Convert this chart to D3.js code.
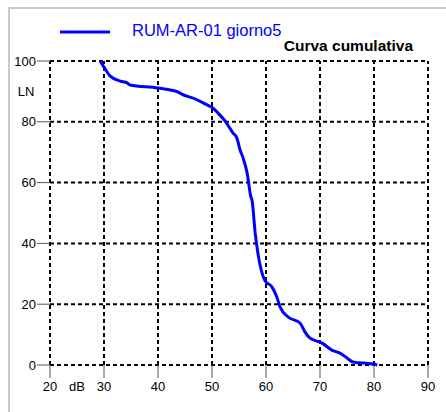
<!DOCTYPE html>
<html><head><meta charset="utf-8">
<script src="https://cdn.jsdelivr.net/npm/d3@7"></script>
<style>body{margin:0;background:#fff;}svg{display:block;font-family:"Liberation Sans",Arial,sans-serif;}</style>
</head><body><svg id="c" width="446" height="412"></svg>
<script>
const seriesName = "RUM-AR-01 giorno5";
const title = "Curva cumulativa";
const xTicks = [20,30,40,50,60,70,80,90];
const yTicks = [0,20,40,60,80,100];
const dB = [29.3,30.2,31.1,33.0,34.3,34.8,40.0,43.7,44.4,46.9,48.7,50.2,51.1,52.4,53.9,54.6,55.2,55.7,56.5,57.2,57.4,58.0,58.5,59.8,61.1,62.0,62.6,64.1,66.3,67.2,68.1,70.4,72.2,73.7,75.0,76.1,79.8,80.6];
const LN = [100,97.4,95.1,93.4,92.8,92.1,91.1,89.8,89.1,87.5,85.9,84.5,82.9,80.3,76.3,74.7,70.7,68.4,63.2,55.3,54.3,43.4,36.8,27.8,25.7,22.4,19.1,15.8,13.8,10.9,8.9,7.2,4.9,3.9,2.3,1.0,0.3,0];

const svg = d3.select("#c");
const x = d3.scaleLinear().domain([20,90]).range([50,428]);
const y = d3.scaleLinear().domain([0,100]).range([365,61]);

// outer border
svg.append("path").attr("d","M9,412 V8 H446").attr("fill","none").attr("stroke","#c8c8c8").attr("stroke-width",2);

// grid
const g = svg.append("g").attr("stroke","#000").attr("stroke-width",2).attr("stroke-dasharray","4,3");
g.selectAll(".vx").data(xTicks).join("line").attr("x1",d=>x(d)).attr("x2",d=>x(d)).attr("y1",y(0)).attr("y2",y(100));
g.selectAll(".hy").data(yTicks).join("line").attr("y1",d=>y(d)).attr("y2",d=>y(d)).attr("x1",x(20)).attr("x2",x(90));

// ticks
svg.selectAll(".yt").data(yTicks).join("line").attr("x1",37).attr("x2",x(20)).attr("y1",d=>y(d)).attr("y2",d=>y(d)).attr("stroke","#555").attr("stroke-width",1);
svg.selectAll(".xt").data(xTicks).join("line").attr("x1",d=>x(d)).attr("x2",d=>x(d)).attr("y1",y(0)).attr("y2",378).attr("stroke","#555").attr("stroke-width",1);
svg.selectAll(".yl").data(yTicks).join("text").attr("x",36).attr("y",d=>y(d)+4.5).attr("text-anchor","end").attr("font-size",13).text(d=>d);
svg.selectAll(".xl").data(xTicks).join("text").attr("x",d=>x(d)).attr("y",391).attr("text-anchor","middle").attr("font-size",13).text(d=>d);
svg.append("text").attr("x",26).attr("y",96).attr("text-anchor","middle").attr("font-size",13).text("LN");
svg.append("text").attr("x",77).attr("y",391).attr("text-anchor","middle").attr("font-size",13).text("dB");

// curve
const pts = dB.map((d,i)=>[d,LN[i]]);
svg.append("path").datum(pts).attr("d",d3.line().x(d=>x(d[0])).y(d=>y(d[1])).curve(d3.curveMonotoneX))
  .attr("fill","none").attr("stroke","#0000ff").attr("stroke-width",3).attr("stroke-linejoin","round");

// legend
svg.append("line").attr("x1",60).attr("x2",110).attr("y1",32).attr("y2",32).attr("stroke","#0000ff").attr("stroke-width",3);
svg.append("text").attr("x",132).attr("y",35.5).attr("font-size",16.5).attr("fill","#0000ff").text(seriesName);
svg.append("text").attr("x",413).attr("y",51).attr("text-anchor","end").attr("font-size",15.5).attr("font-weight","bold").text(title);
</script></body></html>
